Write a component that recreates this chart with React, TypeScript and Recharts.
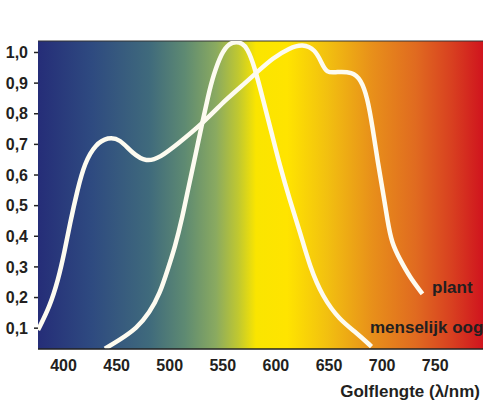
import React from 'react';
import {
  LineChart,
  Line,
  XAxis,
  YAxis,
  ReferenceArea,
  ReferenceLine,
  ReferenceDot,
} from 'recharts';

const plantWavelengths = [376, 387, 395, 401, 406, 413, 420, 430, 442, 453, 465, 478, 491, 507, 530, 554, 566, 582, 597, 613, 625, 637, 643, 648, 657, 672, 680, 686, 691, 696, 701, 705, 709, 717, 726, 738];
const plantValues = [0.094, 0.17, 0.258, 0.35, 0.44, 0.55, 0.64, 0.7, 0.724, 0.718, 0.67, 0.642, 0.657, 0.7, 0.765, 0.85, 0.885, 0.935, 0.982, 1.015, 1.028, 1.01, 0.966, 0.932, 0.937, 0.937, 0.912, 0.855, 0.757, 0.64, 0.542, 0.453, 0.378, 0.323, 0.267, 0.212];

const eyeWavelengths = [439, 453, 469, 481, 491, 498, 505, 512, 518, 524, 530, 536, 541, 549, 556, 563, 568, 573, 580, 588, 596, 604, 613, 623, 632, 644, 660, 676, 690];
const eyeValues = [0.033, 0.062, 0.1, 0.15, 0.215, 0.29, 0.365, 0.463, 0.565, 0.66, 0.76, 0.855, 0.925, 1.0, 1.03, 1.035, 1.03, 1.015, 0.953, 0.845, 0.737, 0.627, 0.519, 0.411, 0.3, 0.202, 0.127, 0.085, 0.04];

const xTicks = [400, 450, 500, 550, 600, 650, 700, 750];
const yTicks = [0.1, 0.2, 0.3, 0.4, 0.5, 0.6, 0.7, 0.8, 0.9, 1.0];
const xDomain = [376, 795];
const yDomain = [0.032, 1.0375];

const seriesNames = ['plant', 'menselijk oog'];
const labelPositions = [
  { x: 747, y: 0.234 },
  { x: 688.6, y: 0.103 },
];
const xAxisTitle = 'Golflengte (λ/nm)';

const plantData = plantWavelengths.map((w, i) => ({ w, v: plantValues[i] }));
const eyeData = eyeWavelengths.map((w, i) => ({ w, v: eyeValues[i] }));

const FONT = '"Liberation Sans", Arial, sans-serif';
const TEXT = '#231f20';

export default function App() {
  return (
    <div style={{ position: 'absolute', left: 0, top: 0 }}>
      <LineChart
        width={500}
        height={400}
        margin={{ top: 41, right: 17, left: 0, bottom: 0 }}
        style={{ fontFamily: FONT }}
      >
        <defs>
          <linearGradient id="spectrum" x1="0" y1="0" x2="1" y2="0">
            <stop offset="0" stopColor="#252d78" />
            <stop offset="0.12" stopColor="#2e4a80" />
            <stop offset="0.25" stopColor="#3f6a7c" />
            <stop offset="0.33" stopColor="#5e8a72" />
            <stop offset="0.4" stopColor="#8aaa60" />
            <stop offset="0.45" stopColor="#c0c830" />
            <stop offset="0.49" stopColor="#fae500" />
            <stop offset="0.56" stopColor="#ffe400" />
            <stop offset="0.65" stopColor="#f2c010" />
            <stop offset="0.75" stopColor="#e8901a" />
            <stop offset="0.85" stopColor="#e06a20" />
            <stop offset="0.93" stopColor="#d84020" />
            <stop offset="1" stopColor="#d0141e" />
          </linearGradient>
        </defs>
        <XAxis
          type="number"
          dataKey="w"
          domain={xDomain}
          ticks={xTicks}
          allowDataOverflow
          height={51}
          tickLine={false}
          tickSize={0}
          tickMargin={11}
          axisLine={{ stroke: '#222', strokeWidth: 1.5 }}
          tick={{ fill: TEXT, fontSize: 16, fontWeight: 'bold', fontFamily: FONT }}
          label={{
            value: xAxisTitle,
            position: 'insideBottomRight',
            offset: 3,
            fill: TEXT,
            fontSize: 17,
            fontWeight: 'bold',
            fontFamily: FONT,
          }}
        />
        <YAxis
          type="number"
          domain={yDomain}
          ticks={yTicks}
          allowDataOverflow
          width={38}
          axisLine={false}
          tickSize={4}
          tickMargin={6}
          tickLine={{ stroke: '#222', strokeWidth: 1.5 }}
          tickFormatter={(v: number) => v.toFixed(1).replace('.', ',')}
          tick={{ fill: TEXT, fontSize: 16, fontWeight: 'bold', fontFamily: FONT }}
        />
        <ReferenceArea
          x1={xDomain[0]}
          x2={xDomain[1]}
          y1={yDomain[0]}
          y2={yDomain[1]}
          fill="url(#spectrum)"
          fillOpacity={1}
          stroke="none"
        />
        <ReferenceLine y={yDomain[1]} stroke="#333" strokeWidth={1} />
        <Line
          data={plantData}
          dataKey="v"
          type="basis"
          stroke="#fdfbf0"
          strokeWidth={4.5}
          dot={false}
          isAnimationActive={false}
        />
        <Line
          data={eyeData}
          dataKey="v"
          type="basis"
          stroke="#fdfbf0"
          strokeWidth={4.5}
          dot={false}
          isAnimationActive={false}
        />
        {labelPositions.map((p, i) => (
          <ReferenceDot
            key={seriesNames[i]}
            x={p.x}
            y={p.y}
            r={0}
            fill="none"
            stroke="none"
            ifOverflow="visible"
            label={{
              value: seriesNames[i],
              position: 'right',
              offset: 0,
              fill: TEXT,
              fontSize: 17,
              fontWeight: 'bold',
              fontFamily: FONT,
            }}
          />
        ))}
      </LineChart>
    </div>
  );
}
